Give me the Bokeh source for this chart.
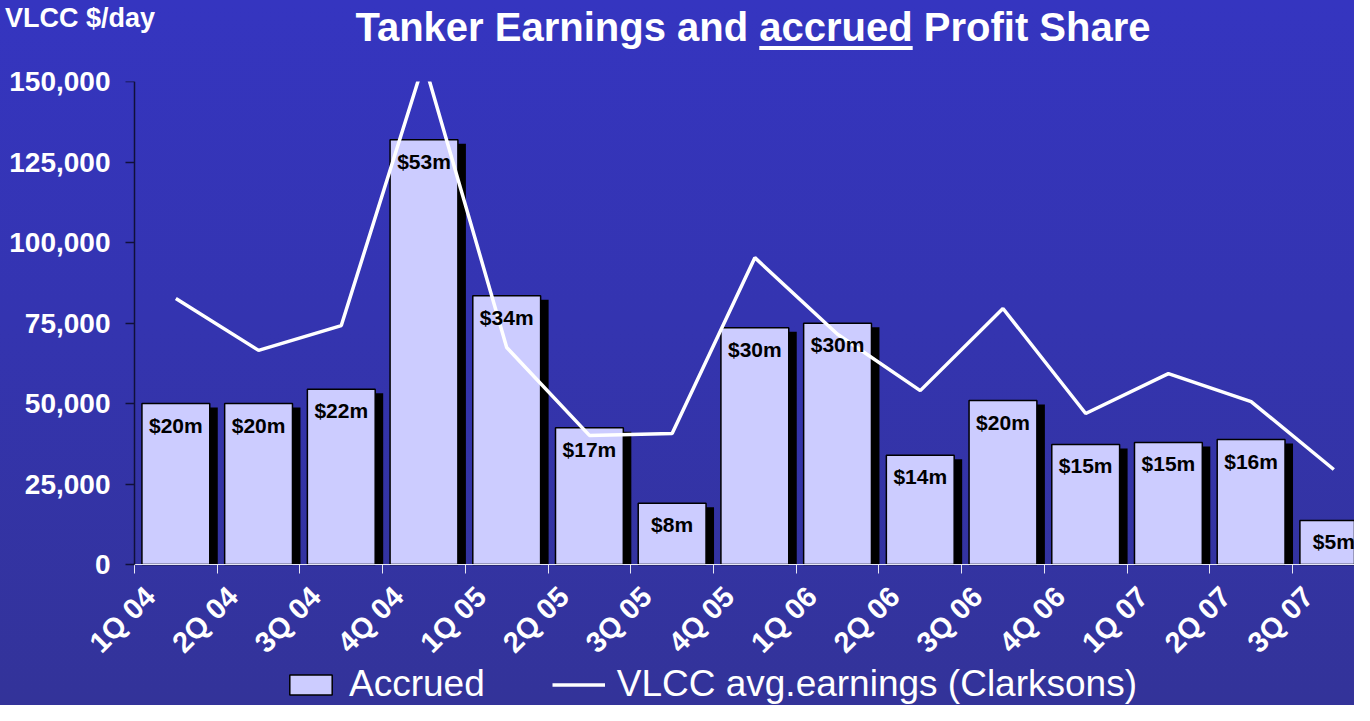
import math
import numpy as np
from bokeh.plotting import figure
from bokeh.layouts import column
from bokeh.models import (FixedTicker, NumeralTickFormatter, Range1d, Div, LinearAxis,
                          Legend, LegendItem, ColumnDataSource)
from bokeh.core.properties import value
from bokeh.embed import file_html
from bokeh.resources import INLINE

# ---------------- data ----------------
quarters = ["1Q 04", "2Q 04", "3Q 04", "4Q 04", "1Q 05", "2Q 05", "3Q 05", "4Q 05",
            "1Q 06", "2Q 06", "3Q 06", "4Q 06", "1Q 07", "2Q 07", "3Q 07"]
accrued = [50000, 50000, 54400, 131900, 83500, 42500, 19000, 73500,
           74900, 33900, 50900, 37300, 37900, 38800, 13700]
accrued_labels = ["$20m", "$20m", "$22m", "$53m", "$34m", "$17m", "$8m", "$30m",
                  "$30m", "$14m", "$20m", "$15m", "$15m", "$16m", "$5m"]
vlcc = [82600, 66500, 74200, 156000, 67400, 40100, 40700, 95300,
        71500, 54000, 79500, 46900, 59300, 50600, 29500]
y_ticks = [0, 25000, 50000, 75000, 100000, 125000, 150000]

FONT = "Liberation Sans"
W, H = 1354, 705
HEAD = 60                      # height of the HTML header strip
TOP = 21
AXIS_X = 134                   # pixel position of the zero (y axis) line
LEFT = 80                      # frame starts here so the first rotated label fits
PLOT_W = W - AXIS_X
PLOT_H = 483
BELOW = H - HEAD - TOP - PLOT_H
FRAME_W, FRAME_H = W - LEFT, PLOT_H + BELOW
CAT_PX = PLOT_W / 14.75
X_END = PLOT_W / CAT_PX
X_START = -(AXIS_X - LEFT) / CAT_PX
Y_MAX = 150000
Y_MIN = -Y_MAX * BELOW / PLOT_H
px_x = 1 / CAT_PX
px_y = Y_MAX / PLOT_H

idx = np.arange(len(quarters))
centers = idx + 0.5
src = ColumnDataSource(dict(
    x=centers, top=accrued, lab=accrued_labels, vlcc=vlcc,
    sx=centers + 8 * px_x, stop=np.array(accrued) - 4 * px_y,
))

p = figure(frame_width=FRAME_W, frame_height=FRAME_H,
           x_range=Range1d(X_START, X_END), y_range=Range1d(Y_MIN, Y_MAX),
           output_backend="svg", toolbar_location=None,
           min_border_left=LEFT, min_border_right=0, min_border_top=TOP,
           min_border_bottom=0)
p.background_fill_alpha = 0
p.border_fill_alpha = 0
p.outline_line_color = None
p.grid.visible = False

p.vbar(x="sx", top="stop", bottom=0, width=0.82, source=src,
       fill_color="black", line_color=None)
bars = p.vbar(x="x", top="top", bottom=0, width=0.82, source=src,
              fill_color="#CCCCFF", line_color="black", line_width=1.5)
line = p.line(x="x", y="vlcc", source=src, line_color="white", line_width=3.5)
p.text(x="x", y="top", text="lab", source=src, text_align="center",
       text_baseline="top", y_offset=10, text_font=value(FONT),
       text_font_size="21px", text_font_style="bold", text_color="black")

# y labels (side panel, pulled right to sit beside the zero line)
p.yaxis.ticker = FixedTicker(ticks=y_ticks)
p.yaxis.bounds = (0, Y_MAX)
p.yaxis.formatter = NumeralTickFormatter(format="0,0")
p.yaxis.major_label_text_font = FONT
p.yaxis.major_label_text_font_size = "28px"
p.yaxis.major_label_text_font_style = "bold"
p.yaxis.major_label_text_color = "white"
p.yaxis.major_label_standoff = -((AXIS_X - LEFT) - 9 - 15)
p.yaxis.axis_line_color = None
p.yaxis.major_tick_line_color = None
p.yaxis.major_tick_out = 0
p.yaxis.major_tick_in = 0
p.yaxis.minor_tick_line_color = None

# y axis line and ticks at x = 0
yline = LinearAxis(fixed_location=0, bounds=(0, Y_MAX), ticker=FixedTicker(ticks=y_ticks),
                   axis_line_color="#10103a", axis_line_width=1.5,
                   major_tick_line_color="#10103a", major_tick_line_width=1.5,
                   major_tick_out=9, major_tick_in=0, minor_tick_line_color=None,
                   major_label_text_color=None)
p.add_layout(yline, "left")

label_ticks = [i + 0.19 for i in range(len(quarters))]
p.xaxis.fixed_location = 0
p.xaxis.bounds = (0, X_END)
p.xaxis.ticker = FixedTicker(ticks=label_ticks,
                             minor_ticks=[float(i) for i in range(len(quarters) + 1)])
p.xaxis.major_label_overrides = {t: q for t, q in zip(label_ticks, quarters)}
p.xaxis.major_label_orientation = math.pi / 4
p.xaxis.major_label_text_font = FONT
p.xaxis.major_label_text_font_size = "29px"
p.xaxis.major_label_text_font_style = "bold"
p.xaxis.major_label_text_color = "white"
p.xaxis.major_label_standoff = 18
p.xaxis.axis_line_color = "#e8e8f4"
p.xaxis.axis_line_width = 1
p.xaxis.major_tick_line_color = None
p.xaxis.minor_tick_line_color = "#e8e8f4"
p.xaxis.minor_tick_in = 0
p.xaxis.minor_tick_out = 9

legend = Legend(items=[LegendItem(label="Accrued", renderers=[bars]),
                       LegendItem(label="VLCC avg.earnings (Clarksons)", renderers=[line])],
                location=(284 - LEFT, 0), orientation="horizontal",
                background_fill_alpha=0, border_line_color=None, padding=0, margin=0,
                glyph_width=53, glyph_height=25, label_standoff=12, spacing=67,
                label_text_font=FONT, label_text_font_size="37px",
                label_text_color="white")
p.add_layout(legend)

head_html = (
    '<div style="position:relative;width:%dpx;height:%dpx;font-family:\'%s\';'
    'color:white;font-weight:bold;">'
    '<span style="position:absolute;left:5px;top:5px;font-size:27px;line-height:27px;'
    'white-space:nowrap;">VLCC $/day</span>'
    '<span style="position:absolute;left:753px;top:7px;transform:translateX(-50%%);'
    'font-size:40px;line-height:40px;white-space:nowrap;">Tanker Earnings and '
    '<span style="text-decoration:underline;text-decoration-thickness:4px;'
    'text-underline-offset:5px;">accrued</span> Profit Share</span>'
    '</div>' % (W, HEAD, FONT)
)
head = Div(text=head_html, width=W, height=HEAD, margin=0)

layout = column(head, p, spacing=0,
                styles={"background": "linear-gradient(to bottom, #3535C0 0%, #3434B0 45%, #333399 100%)"})

open("out.html", "w").write(file_html(layout, INLINE))
